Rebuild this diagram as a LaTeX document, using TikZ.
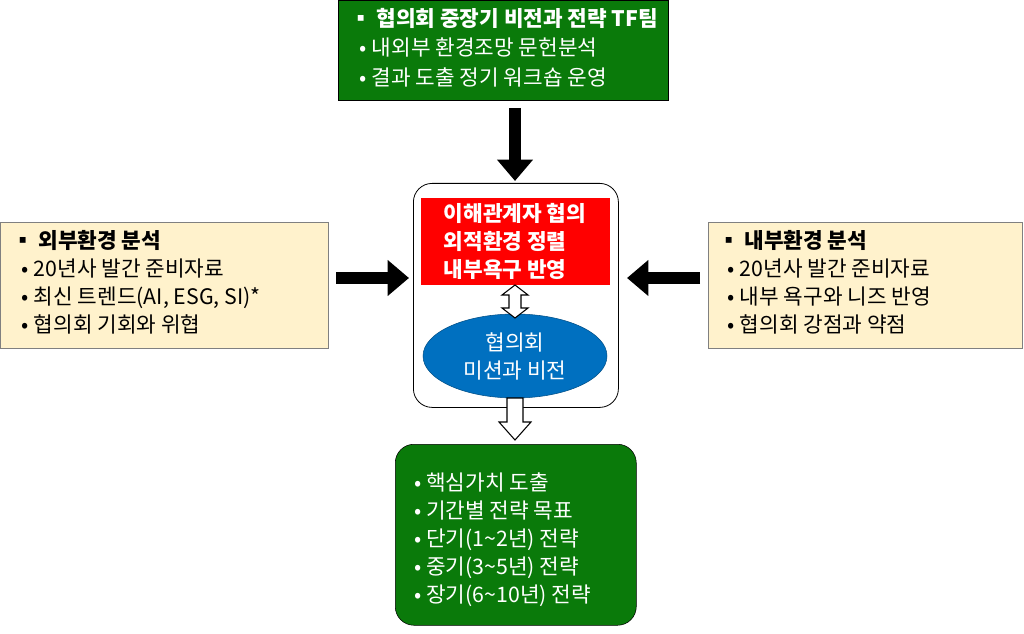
\documentclass[tikz,border=0pt]{standalone}
\usepackage{fontspec}
\setmainfont{Noto Sans CJK KR}
\usetikzlibrary{arrows.meta,shapes.geometric}
\definecolor{gr}{HTML}{0A7A0A}
\definecolor{beige}{HTML}{FFF2CC}
\definecolor{blu}{HTML}{0070C0}
\tikzset{
  txt/.style={font=\fontsize{16}{21}\selectfont, align=left, anchor=north west, inner sep=0},
  blk/.style={line width=9pt, -{Triangle[length=16pt,width=26pt]}},
  hol/.style={draw=black, fill=white, line width=0.8pt, line join=miter},
}
\begin{document}
\begin{tikzpicture}[x=0.75pt,y=-0.75pt]
\useasboundingbox (0,0) rectangle (1024,634);
% top
\node[draw=black, fill=gr, minimum width=330*0.75pt, minimum height=100*0.75pt, anchor=north west, inner sep=0] (top) at (338,0) {};
\node[txt, text=white] (toptxt) at (350,8) {\textbf{▪ 협의회 중장기 비전과 전략 TF팀}\\[1pt]\ \ • 내외부 환경조망 문헌분석\\[1pt]\ \ • 결과 도출 정기 워크숍 운영};
% center
\node[draw=black, rounded corners=14pt, minimum width=205*0.75pt, minimum height=224*0.75pt, anchor=north west, inner sep=0, line width=0.6pt] (ctr) at (413,183) {};
\node[fill=red, minimum width=189*0.75pt, minimum height=87*0.75pt, anchor=north west, inner sep=0] (red) at (421,198) {};
\node[text=white, font=\fontsize{16}{21}\selectfont\bfseries, align=left] (redt) at (515,241) {이해관계자 협의\\외적환경 정렬\\내부욕구 반영};
\node[ellipse, draw=blu!70!black, fill=blu, minimum width=184*0.75pt, minimum height=84*0.75pt, inner sep=0] (ell) at (515,356) {};
\node[text=white, font=\fontsize{16}{21}\selectfont, align=center] (ellt) at (515,356) {협의회\\미션과 비전};
% double arrow
\draw[hol] (509,295) -- (502,295) -- (515,285) -- (528,295) -- (521,295) -- (521,308) -- (528,308) -- (515,318) -- (502,308) -- (509,308) -- cycle;
% top arrow
\coordinate (a1) at (515,108);
\coordinate (a2) at (515,181);
\draw[blk] (a1) -- (a2);
% bottom
\node[draw=black, fill=gr, rounded corners=14pt, minimum width=241*0.75pt, minimum height=181*0.75pt, anchor=north west, inner sep=0] (bot) at (395,444) {};
\node[txt, text=white, font=\fontsize{16}{21}\selectfont] (bott) at (414,472) {• 핵심가치 도출\\• 기간별 전략 목표\\• 단기(1\textasciitilde 2년) 전략\\• 중기(3\textasciitilde 5년) 전략\\• 장기(6\textasciitilde 10년) 전략};
\draw[hol] (507,398) -- (523,398) -- (523,422) -- (531,422) -- (515,440) -- (499,422) -- (507,422) -- cycle;
% left
\node[draw=gray, fill=beige, minimum width=328*0.75pt, minimum height=126*0.75pt, anchor=north west, inner sep=0] (lft) at (0,222) {};
\node[txt] (lt) at (12,230) {\textbf{▪ 외부환경 분석}\\\ \ • 20년사 발간 준비자료\\\ \ • 최신 트렌드(AI, ESG, SI)*\\\ \ • 협의회 기회와 위협};
\coordinate (l1) at (336,278);
\coordinate (l2) at (409,278);
\draw[blk] (l1) -- (l2);
% right
\node[draw=gray, fill=beige, minimum width=314*0.75pt, minimum height=126*0.75pt, anchor=north west, inner sep=0] (rgt) at (708,222) {};
\node[txt] (rt) at (718,230) {\textbf{▪ 내부환경 분석}\\\ \ • 20년사 발간 준비자료\\\ \ • 내부 욕구와 니즈 반영\\\ \ • 협의회 강점과 약점};
\coordinate (r1) at (700,278);
\coordinate (r2) at (627,278);
\draw[blk] (r1) -- (r2);
\end{tikzpicture}
\end{document}
